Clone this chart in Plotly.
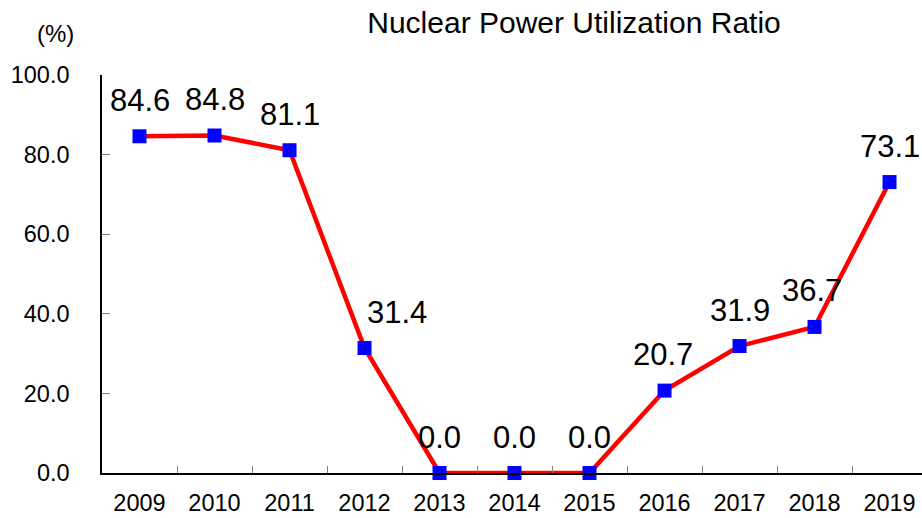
import plotly.graph_objects as go

years = ["2009", "2010", "2011", "2012", "2013", "2014", "2015", "2016", "2017", "2018", "2019"]
ratio = [84.6, 84.8, 81.1, 31.4, 0.0, 0.0, 0.0, 20.7, 31.9, 36.7, 73.1]
label_xshift = [0, 0, 0, 32, 0, 0, 0, -2, 0, -3, 0]
y_ticks = [0, 20, 40, 60, 80, 100]

FONT = "Arial, Liberation Sans, sans-serif"

fig = go.Figure()
fig.add_trace(go.Scatter(
    x=years, y=ratio, mode="lines+markers",
    line=dict(color="#FF0000", width=4.5),
    marker=dict(symbol="square", size=14, color="#0000FF"),
    cliponaxis=False, hoverinfo="x+y",
))

for i, (v, xs) in enumerate(zip(ratio, label_xshift)):
    fig.add_annotation(
        x=i, y=v, xref="x", yref="y", text=f"{v:.1f}", showarrow=False,
        yshift=36, xshift=xs, xanchor="center", yanchor="middle",
        font=dict(family=FONT, size=31, color="#000000"),
    )

fig.add_annotation(
    x=(55 - 102) / 820, y=(473 - 33) / 398, xref="paper", yref="paper",
    text="(%)", showarrow=False, xanchor="center", yanchor="middle",
    font=dict(family=FONT, size=24, color="#000000"),
)

fig.update_layout(
    width=922, height=518,
    margin=dict(l=102, r=0, t=75, b=45, autoexpand=False),
    paper_bgcolor="white", plot_bgcolor="white",
    showlegend=False,
    title=dict(
        text="Nuclear Power Utilization Ratio",
        xref="container", yref="container", automargin=False,
        x=574 / 922, y=1 - 22 / 518, xanchor="center", yanchor="middle",
        font=dict(family=FONT, size=30, color="#000000"),
    ),
    xaxis=dict(
        type="category", range=[-0.5, 10.433], automargin=False,
        showline=True, linecolor="#000000", linewidth=1.5,
        ticks="inside", tickson="boundaries", ticklen=7, tickcolor="#808080",
        showgrid=False, zeroline=False,
        tickfont=dict(family=FONT, size=23.5, color="#000000"),
        ticklabelstandoff=8,
    ),
    yaxis=dict(
        range=[0, 100], tickvals=y_ticks, tickformat=".1f", automargin=False,
        showline=True, linecolor="#000000", linewidth=1.5,
        ticks="inside", ticklen=8, tickcolor="#808080",
        showgrid=False, zeroline=False,
        tickfont=dict(family=FONT, size=23.5, color="#000000"),
        ticklabelstandoff=26,
    ),
)

fig.write_html(
    "out.html",
    config={"displayModeBar": False},
    post_script="document.body.style.margin='0';document.body.style.overflow='hidden';",
)
